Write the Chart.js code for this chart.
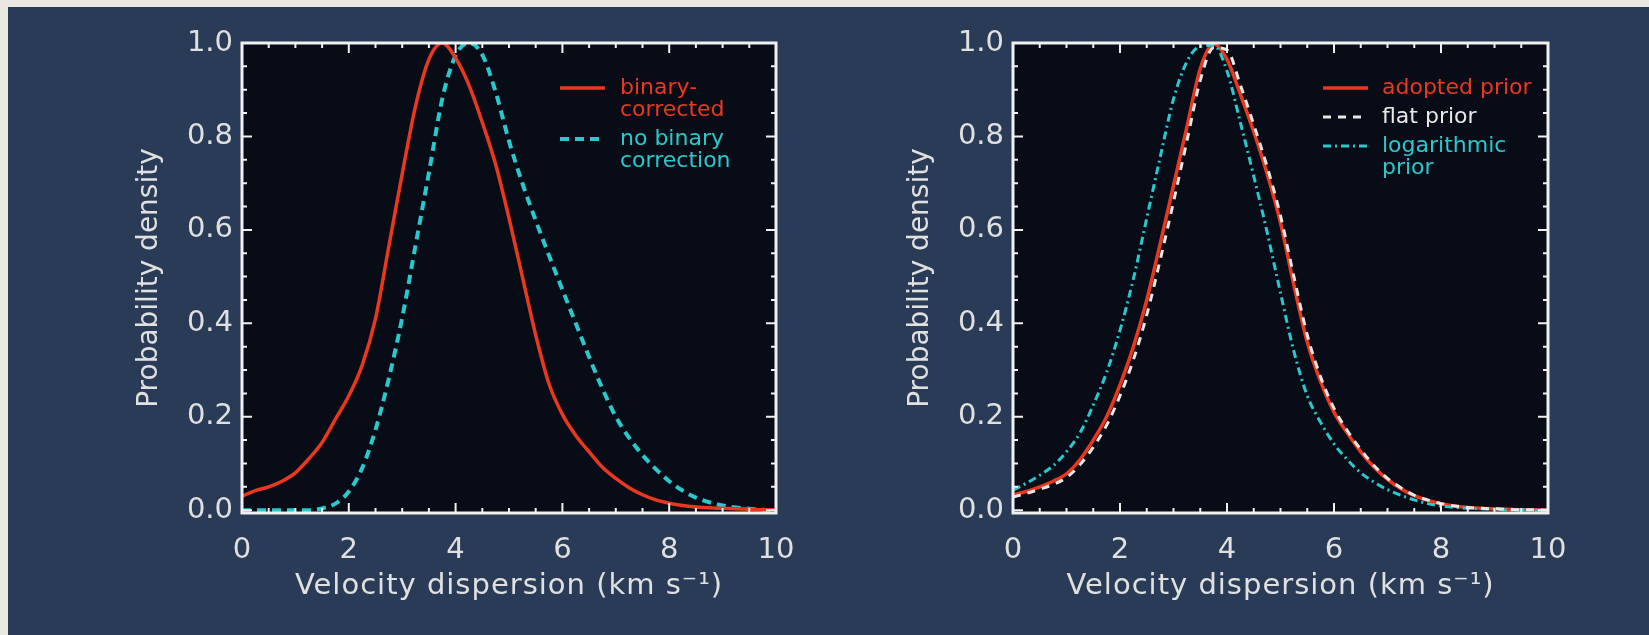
<!DOCTYPE html>
<html lang="en">
<head>
<meta charset="UTF-8">
<title>Velocity dispersion posteriors</title>
<script src="https://cdn.jsdelivr.net/npm/chart.js"></script>
<style>
    body {
        margin: 0;
        width: 1649px;
        height: 635px;
        overflow: hidden;
        background: #ebe8e1;
    }
    #slide {
        position: absolute;
        left: 8px;
        top: 7px;
        right: 0;
        bottom: 0;
        background: #293b56;
    }
    .panel {
        position: absolute;
        top: 10px;
    }
</style>
</head>
<body>
<div id="slide"></div>
<canvas id="left" class="panel" width="700" height="625" style="left:100px"></canvas>
<canvas id="right" class="panel" width="700" height="625" style="left:871px"></canvas>

<script>
// velocity dispersion grid (km/s)
const velocity = [0, 0.25, 0.5, 0.75, 1, 1.25, 1.5, 1.75, 2, 2.25, 2.5, 2.75, 3, 3.25, 3.5, 3.75,
    4, 4.25, 4.5, 4.75, 5, 5.25, 5.5, 5.75, 6, 6.25, 6.5, 6.75, 7, 7.25, 7.5, 7.75,
    8, 8.25, 8.5, 8.75, 9, 9.25, 9.5, 9.75, 10];

// left panel
const binaryCorrected = [0.030, 0.042, 0.050, 0.062, 0.080, 0.110, 0.145, 0.195, 0.245, 0.310, 0.410, 0.565, 0.720, 0.865, 0.965, 1.000,
    0.968, 0.910, 0.830, 0.740, 0.625, 0.500, 0.375, 0.270, 0.205, 0.160, 0.125, 0.092, 0.068, 0.048, 0.033, 0.022,
    0.015, 0.010, 0.007, 0.005, 0.004, 0.003, 0.002, 0.001, 0.001];
const noBinaryCorrection = [0, 0, 0, 0, 0, 0, 0.004, 0.014, 0.040, 0.090, 0.172, 0.282, 0.412, 0.567, 0.722, 0.880,
    0.973, 1.000, 0.975, 0.895, 0.790, 0.700, 0.620, 0.545, 0.472, 0.400, 0.328, 0.260, 0.200, 0.155, 0.118, 0.088,
    0.062, 0.042, 0.027, 0.017, 0.010, 0.006, 0.003, 0.001, 0];

// right panel
const adoptedPrior = [0.033, 0.040, 0.050, 0.062, 0.078, 0.108, 0.150, 0.200, 0.268, 0.350, 0.450, 0.570, 0.695, 0.820, 0.945, 0.998,
    0.965, 0.890, 0.810, 0.720, 0.615, 0.482, 0.360, 0.275, 0.210, 0.165, 0.125, 0.092, 0.066, 0.046, 0.031, 0.021,
    0.014, 0.009, 0.006, 0.004, 0.003, 0.002, 0.001, 0.001, 0];
const flatPrior = [0.028, 0.036, 0.045, 0.055, 0.070, 0.097, 0.135, 0.182, 0.245, 0.322, 0.418, 0.535, 0.660, 0.790, 0.920, 0.990,
    0.985, 0.910, 0.825, 0.735, 0.630, 0.500, 0.375, 0.285, 0.218, 0.170, 0.130, 0.095, 0.068, 0.048, 0.032, 0.022,
    0.014, 0.009, 0.006, 0.004, 0.003, 0.002, 0.001, 0.001, 0];
const logPrior = [0.043, 0.058, 0.075, 0.095, 0.125, 0.165, 0.225, 0.295, 0.385, 0.495, 0.625, 0.755, 0.880, 0.960, 0.993, 0.995,
    0.940, 0.830, 0.715, 0.595, 0.465, 0.340, 0.245, 0.188, 0.142, 0.108, 0.080, 0.060, 0.044, 0.032, 0.022, 0.014,
    0.009, 0.006, 0.004, 0.003, 0.002, 0.001, 0.001, 0, 0];

const xTicks = [0, 2, 4, 6, 8, 10];
const yTicks = [0, 0.2, 0.4, 0.6, 0.8, 1.0];
const xTitle = 'Velocity dispersion (km s\u207B\u00B9)';
const yTitle = 'Probability density';
const leftLegend = [['binary-', 'corrected'], ['no binary', 'correction']];
const rightLegend = [['adopted prior'], ['flat prior'], ['logarithmic', 'prior']];

const RED = '#ea3820';
const CYAN = '#2ac8cc';
const WHITE = '#e8e8e8';
const TEXT = '#e0e0e0';
const FONT = 'DejaVu Sans';

function points(ys) {
    return velocity.map((v, i) => ({ x: v, y: ys[i] }));
}

// IDL-style frame: black plot box, white border, inward ticks on all sides, text legend
const idlFrame = {
    id: 'idlFrame',
    beforeDatasetsDraw(chart) {
        const { ctx, chartArea: a } = chart;
        ctx.save();
        ctx.fillStyle = '#080c16';
        ctx.fillRect(a.left, a.top, a.right - a.left, a.bottom - a.top);
        ctx.restore();
    },
    afterDatasetsDraw(chart, args, opts) {
        const { ctx, chartArea: a, scales } = chart;
        const xs = scales.x, ys = scales.y;
        ctx.save();
        ctx.strokeStyle = '#f0f0f0';
        ctx.lineWidth = 2;
        ctx.beginPath();
        for (let v = 0; v <= 10.001; v += 0.5) {
            const px = xs.getPixelForValue(v);
            const len = Math.abs(v / 2 - Math.round(v / 2)) < 1e-6 ? 10 : 5;
            ctx.moveTo(px, a.bottom); ctx.lineTo(px, a.bottom - len);
            ctx.moveTo(px, a.top); ctx.lineTo(px, a.top + len);
        }
        for (let v = 0; v <= 1.0001; v += 0.05) {
            const py = ys.getPixelForValue(v);
            const len = Math.abs(v / 0.2 - Math.round(v / 0.2)) < 1e-6 ? 10 : 5;
            ctx.moveTo(a.left, py); ctx.lineTo(a.left + len, py);
            ctx.moveTo(a.right, py); ctx.lineTo(a.right - len, py);
        }
        ctx.stroke();
        ctx.lineWidth = 3;
        ctx.strokeRect(a.left, a.top, a.right - a.left, a.bottom - a.top);

        // legend
        let y = a.top + 45;
        ctx.font = '22px "' + FONT + '"';
        ctx.textBaseline = 'middle';
        opts.items.forEach((lines, i) => {
            const ds = chart.data.datasets[i];
            ctx.strokeStyle = ds.borderColor;
            ctx.lineWidth = ds.borderWidth;
            ctx.setLineDash(ds.borderDash || []);
            ctx.beginPath();
            ctx.moveTo(a.left + opts.lineX, y);
            ctx.lineTo(a.left + opts.lineX + 45, y);
            ctx.stroke();
            ctx.setLineDash([]);
            ctx.fillStyle = ds.borderColor;
            lines.forEach((t, k) => ctx.fillText(t, a.left + opts.textX, y + k * 22));
            y += (lines.length - 1) * 22 + 29;
        });

        // x axis title, drawn here so it can be letter-spaced like the original
        ctx.font = '29px "' + FONT + '"';
        ctx.letterSpacing = '1px';
        ctx.fillStyle = TEXT;
        ctx.textAlign = 'center';
        ctx.fillText(xTitle, (a.left + a.right) / 2, chart.height - 49);
        ctx.restore();
    }
};

function makeChart(id, datasets, legend, padRight) {
    return new Chart(document.getElementById(id), {
        type: 'line',
        data: { datasets: datasets },
        options: {
            responsive: false,
            animation: false,
            layout: { padding: { top: 33, right: padRight, left: 0, bottom: 0 } },
            elements: { point: { radius: 0 }, line: { cubicInterpolationMode: 'monotone' } },
            plugins: {
                legend: { display: false },
                tooltip: { enabled: false },
                idlFrame: legend
            },
            scales: {
                x: {
                    type: 'linear',
                    min: 0,
                    max: 10,
                    grid: { display: false, drawTicks: false },
                    border: { display: false },
                    afterBuildTicks: s => { s.ticks = xTicks.map(v => ({ value: v })); },
                    afterFit: s => { s.height = 122; s.paddingLeft = 0; s.paddingRight = 0; },
                    ticks: { color: TEXT, font: { family: FONT, size: 29 }, padding: 20, maxRotation: 0 },
                    title: { display: false }
                },
                y: {
                    min: -0.006,
                    max: 1.0,
                    grid: { display: false, drawTicks: false },
                    border: { display: false },
                    afterBuildTicks: s => { s.ticks = yTicks.map(v => ({ value: v })); },
                    afterFit: s => { s.width = 142; s.paddingTop = 0; s.paddingBottom = 0; },
                    ticks: { color: TEXT, font: { family: FONT, size: 29 }, padding: 9, callback: v => v.toFixed(1) },
                    title: {
                        display: true,
                        text: yTitle,
                        color: TEXT,
                        font: { family: FONT, size: 28 },
                        padding: { top: 33, bottom: 0 }
                    }
                }
            }
        },
        plugins: [idlFrame]
    });
}

makeChart('left', [
    { label: 'binary-corrected', data: points(binaryCorrected), borderColor: RED, borderWidth: 3.5, order: 1 },
    { label: 'no binary correction', data: points(noBinaryCorrection), borderColor: CYAN, borderWidth: 4, borderDash: [9, 6], order: 2 }
], { items: leftLegend, lineX: 318, textX: 378 }, 24);

makeChart('right', [
    { label: 'adopted prior', data: points(adoptedPrior), borderColor: RED, borderWidth: 3.5, order: 3 },
    { label: 'flat prior', data: points(flatPrior), borderColor: WHITE, borderWidth: 3, borderDash: [8, 7], order: 1 },
    { label: 'logarithmic prior', data: points(logPrior), borderColor: CYAN, borderWidth: 3, borderDash: [8, 4, 2, 4], order: 2 }
], { items: rightLegend, lineX: 310, textX: 369 }, 23);
</script>
</body>
</html>
